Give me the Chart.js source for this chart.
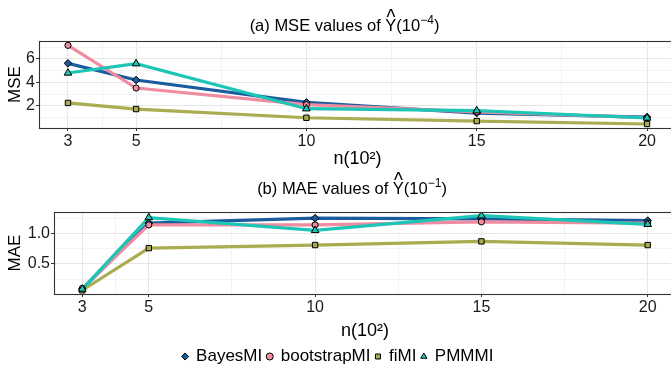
<!DOCTYPE html>
<html><head><meta charset="utf-8">
<script src="https://cdn.jsdelivr.net/npm/chart.js@4.4.1/dist/chart.umd.min.js"></script>
<style>
html,body{margin:0;padding:0;background:#fff;overflow:hidden;width:671px;height:369px;}
.wrap{position:absolute;left:0;width:700px;overflow:hidden;}
canvas{display:block;}
</style></head><body>
<div class="wrap" style="top:0;height:170px"><canvas id="c1" width="700" height="170"></canvas></div>
<div class="wrap" style="top:170px;height:205px"><canvas id="c2" width="700" height="205"></canvas></div>
<script>
// ---- data ----
const nValues = [3, 5, 10, 15, 20];
const xMajor = [3, 5, 10, 15, 20];
const xMinor = [4, 7.5, 12.5, 17.5];
const seriesNames = ['BayesMI', 'bootstrapMI', 'fiMI', 'PMMMI'];

const mseBayesMI     = [5.63, 4.21, 2.31, 1.40, 1.05];
const mseBootstrapMI = [7.16, 3.53, 2.11, 1.50, 1.00];
const mseFiMI        = [2.26, 1.74, 1.00, 0.72, 0.47];
const msePMMMI       = [4.81, 5.60, 1.77, 1.60, 0.98];

const maeBayesMI     = [0.09, 1.17, 1.25, 1.24, 1.21];
const maeBootstrapMI = [0.10, 1.14, 1.14, 1.19, 1.17];
const maeFiMI        = [0.07, 0.76, 0.81, 0.87, 0.81];
const maePMMMI       = [0.09, 1.26, 1.05, 1.29, 1.15];

const mseYMajor = [2, 4, 6];
const mseYMinor = [1, 3, 5, 7];
const maeYMajor = [0.5, 1.0];
const maeYMinor = [0.25, 0.75, 1.25];

// ---- styles ----
const FONT = '"Liberation Sans", Arial, Helvetica, sans-serif';
const TXT = '#1a1a1a';
const colors = ['#1b5c9f', '#ef8ca0', '#a9ac50', '#1dc5b6'];
const shapes = ['rectRot', 'circle', 'rect', 'triangle'];
const radii = [3.8, 3.1, 3.8, 4.4];

function buildDatasets(series) {
  const pts = series.map((vals, i) => ({
    label: seriesNames[i],
    data: nValues.map((n, j) => ({x: n, y: vals[j]})),
    showLine: false,
    pointStyle: shapes[i],
    pointRadius: radii[i],
    pointBackgroundColor: colors[i],
    pointBorderColor: '#000',
    pointBorderWidth: 1,
    backgroundColor: colors[i],
    borderColor: '#000',
    borderWidth: 1,
    order: 4 - i
  }));
  const lines = series.map((vals, i) => ({
    label: seriesNames[i] + ' line',
    data: nValues.map((n, j) => ({x: n, y: vals[j]})),
    showLine: true,
    pointRadius: 0,
    borderColor: colors[i],
    backgroundColor: colors[i],
    borderWidth: 3.2,
    tension: 0,
    order: 8 - i
  }));
  return pts.concat(lines);
}

const boxPlugin = {
  id: 'panelBox',
  afterDatasetsDraw(chart) {
    const a = chart.chartArea, ctx = chart.ctx;
    ctx.save();
    ctx.strokeStyle = '#333333';
    ctx.lineWidth = 1.1;
    ctx.strokeRect(Math.round(a.left) + 0.5, Math.round(a.top) + 0.5,
                   Math.round(a.right - a.left), Math.round(a.bottom - a.top));
    ctx.restore();
  }
};

const hatTitlePlugin = {
  id: 'hatTitle',
  afterDraw(chart, args, o) {
    const ctx = chart.ctx, a = chart.chartArea;
    const size = o.size;
    const fMain = size + 'px ' + FONT;
    const fSup = Math.round(size * 0.7) + 'px ' + FONT;
    const parts = [
      {t: o.prefix, f: fMain, dy: 0},
      {t: 'Y', f: fMain, dy: 0, hat: true},
      {t: '(10', f: fMain, dy: 0},
      {t: o.sup, f: fSup, dy: -size * 0.42},
      {t: ')', f: fMain, dy: 0}
    ];
    ctx.save();
    let total = 0;
    parts.forEach(p => { ctx.font = p.f; p.w = ctx.measureText(p.t).width; total += p.w; });
    let x = (a.left + a.right) / 2 + o.dx - total / 2;
    ctx.fillStyle = '#000';
    ctx.textBaseline = 'alphabetic';
    ctx.textAlign = 'left';
    parts.forEach(p => {
      ctx.font = p.f;
      ctx.fillText(p.t, x, o.y + p.dy);
      if (p.hat) {
        ctx.save();
        ctx.font = size + 'px ' + FONT;
        ctx.textAlign = 'center';
        ctx.translate(x + p.w / 2, o.y - size * 0.42);
        ctx.scale(1.15, 1.3);
        ctx.fillText('^', 0, 0);
        ctx.restore();
      }
      x += p.w;
    });
    ctx.restore();
  }
};

function gridColor(major) {
  return c => (c.tick && major.includes(c.tick.value)) ? '#e6e6e6' : '#f3f3f3';
}
function tickColor(major) {
  return c => (c.tick && major.includes(c.tick.value)) ? '#333333' : 'rgba(0,0,0,0)';
}

function makeChart(id, series, cfg) {
  const yTicks = cfg.yMajor.concat(cfg.yMinor).sort((a, b) => a - b);
  const xTicks = xMajor.concat(xMinor).sort((a, b) => a - b);
  return new Chart(document.getElementById(id), {
    type: 'line',
    data: {datasets: buildDatasets(series)},
    plugins: [boxPlugin, hatTitlePlugin],
    options: {
      responsive: false,
      animation: false,
      devicePixelRatio: 1,
      layout: {padding: {top: cfg.top, right: 24, left: 0, bottom: 0}},
      scales: {
        x: {
          type: 'linear', min: 2.15, max: 20.85,
          afterBuildTicks: s => { s.ticks = xTicks.map(v => ({value: v})); },
          afterFit: s => { s.height = cfg.xh; },
          border: {display: false},
          grid: {color: gridColor(xMajor), lineWidth: 1, tickColor: tickColor(xMajor), tickLength: 3, drawTicks: true},
          ticks: {autoSkip: false, maxRotation: 0, padding: 1, color: TXT,
                  font: {family: FONT, size: 16},
                  callback: v => xMajor.includes(v) ? String(v) : ''},
          title: {display: true, text: 'n(10²)', color: '#000',
                  font: {family: FONT, size: 18}, padding: {top: 0, bottom: cfg.xtp}}
        },
        y: {
          type: 'linear', min: cfg.yMin, max: cfg.yMax,
          afterBuildTicks: s => { s.ticks = yTicks.map(v => ({value: v})); },
          afterFit: s => { s.width = cfg.yw; },
          border: {display: false},
          grid: {color: gridColor(cfg.yMajor), lineWidth: 1, tickColor: tickColor(cfg.yMajor), tickLength: 3, drawTicks: true},
          ticks: {autoSkip: false, padding: 1, color: TXT,
                  font: {family: FONT, size: 16},
                  callback: v => cfg.yMajor.includes(v) ? cfg.fmt(v) : ''},
          title: {display: true, text: cfg.yTitle, color: '#000',
                  font: {family: FONT, size: 17}, padding: {top: cfg.ytp, bottom: 0}}
        }
      },
      plugins: {
        legend: cfg.legend ? {
          display: true, position: 'bottom',
          labels: {
            usePointStyle: true, boxWidth: 5, boxHeight: 5, padding: 5,
            color: '#000', font: {family: FONT, size: 17},
            filter: item => item.datasetIndex < 4,
            sort: (a, b) => a.datasetIndex - b.datasetIndex
          }
        } : {display: false},
        tooltip: {enabled: false},
        hatTitle: cfg.title
      }
    }
  });
}

makeChart('c1', [mseBayesMI, mseBootstrapMI, mseFiMI, msePMMMI], {
  top: 41, xh: 42, yw: 39, xtp: 0, ytp: 5,
  yMin: 0.128, yMax: 7.53, yMajor: mseYMajor, yMinor: mseYMinor,
  fmt: v => String(v), yTitle: 'MSE', legend: false,
  title: {prefix: '(a) MSE values of ', sup: '\u22124', y: 31, size: 16.5, dx: -13}
});

makeChart('c2', [maeBayesMI, maeBootstrapMI, maeFiMI, maePMMMI], {
  top: 42, xh: 49, yw: 54, xtp: 1, ytp: 5,
  yMin: 0.009, yMax: 1.351, yMajor: maeYMajor, yMinor: maeYMinor,
  fmt: v => v.toFixed(1), yTitle: 'MAE', legend: true,
  title: {prefix: '(b) MAE values of ', sup: '\u22121', y: 24, size: 16.5, dx: -13}
});
</script>
</body></html>
